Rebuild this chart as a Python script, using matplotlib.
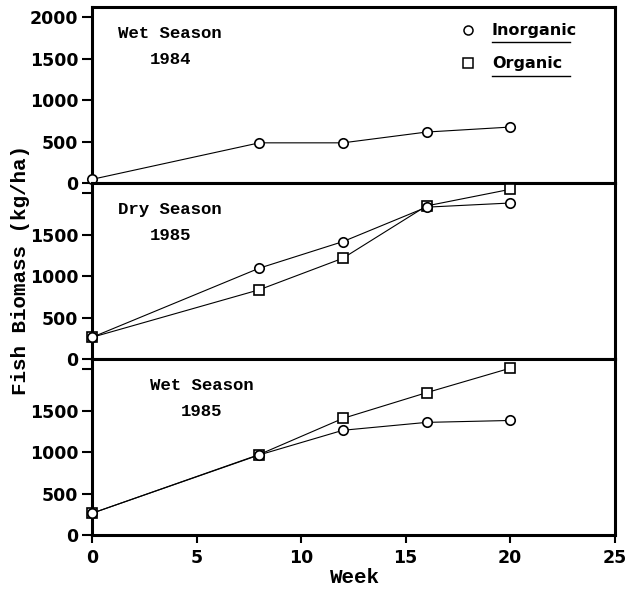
import matplotlib
matplotlib.use("Agg")
import matplotlib.pyplot as plt
from matplotlib.lines import Line2D

# Data (week vs fish biomass kg/ha)
weeks = [0, 8, 12, 16, 20]

wet84_inorganic = [45, 485, 485, 615, 675]

dry85_inorganic = [262, 1095, 1415, 1830, 1880]
dry85_organic = [262, 835, 1215, 1845, 2045]

wet85_inorganic = [262, 965, 1262, 1357, 1380]
wet85_organic = [262, 970, 1405, 1715, 2010]

panel_titles = [("Wet Season", "1984"), ("Dry Season", "1985"), ("Wet Season", "1985")]
ytick_vals = [0, 500, 1000, 1500, 2000]
xtick_vals = [0, 5, 10, 15, 20, 25]

label_font = {"family": "Liberation Mono", "weight": "bold"}
tick_font = {"family": "DejaVu Sans", "weight": "bold", "size": 12.5}

fig = plt.figure(figsize=(6.26, 5.94), dpi=100)
left, right = 0.147, 0.982
bottom, top = 0.0993, 0.988
h = (top - bottom) / 3

axes = []
for i in range(3):
    ax = fig.add_axes([left, top - (i + 1) * h, right - left, h])
    axes.append(ax)

mk = dict(markersize=6.8, markerfacecolor="white", markeredgecolor="black",
          markeredgewidth=1.2, color="black", linewidth=0.8, clip_on=False, zorder=5)

axes[0].plot(weeks, wet84_inorganic, marker="o", **mk)
axes[1].plot(weeks, dry85_organic, marker="s", **mk)
axes[1].plot(weeks, dry85_inorganic, marker="o", **mk)
axes[2].plot(weeks, wet85_organic, marker="s", **mk)
axes[2].plot(weeks, wet85_inorganic, marker="o", **mk)

for i, ax in enumerate(axes):
    ax.set_xlim(0, 25)
    ax.set_ylim(0, 2120)
    for s in ax.spines.values():
        s.set_linewidth(2.2)
    ax.set_yticks(ytick_vals)
    if i == 0:
        ax.set_yticklabels([str(v) for v in ytick_vals], **tick_font)
    else:
        ax.set_yticklabels([str(v) for v in ytick_vals[:-1]] + [""], **tick_font)
    ax.tick_params(axis="y", direction="out", length=7, width=1.5, pad=3)
    if i < 2:
        ax.set_xticks([])
    else:
        ax.set_xticks(xtick_vals)
        ax.set_xticklabels([str(v) for v in xtick_vals], **tick_font)
        ax.tick_params(axis="x", direction="out", length=6, width=1.5, pad=4)
    t1, t2 = panel_titles[i]
    x0 = 0.05 if i < 2 else 0.11
    ax.text(x0, 0.85, t1, transform=ax.transAxes, ha="left", va="center",
            fontsize=12.5, **label_font)
    ax.text(x0 + 0.1, 0.7, t2, transform=ax.transAxes, ha="center", va="center",
            fontsize=12.5, **label_font)

# Legend with underlined labels
ax = axes[0]
for yy, m, lab in [(0.87, "o", "Inorganic"), (0.68, "s", "Organic")]:
    ax.plot([0.72], [yy], marker=m, transform=ax.transAxes, markersize=6.5,
            markerfacecolor="white", markeredgecolor="black", markeredgewidth=1.1,
            linestyle="none", clip_on=False)
    ax.text(0.765, yy, lab, transform=ax.transAxes, ha="left", va="center",
            fontsize=11.5, fontweight="bold", family="DejaVu Sans")
    ax.add_line(Line2D([0.765, 0.915], [yy - 0.07, yy - 0.07], transform=ax.transAxes,
                       color="black", linewidth=1.0))

fig.text(0.032, 0.545, "Fish Biomass (kg/ha)", rotation=90, ha="center", va="center",
         fontsize=15, **label_font)
fig.text(0.567, 0.027, "Week", ha="center", va="center", fontsize=15, **label_font)

fig.savefig("out.png", dpi=100)
